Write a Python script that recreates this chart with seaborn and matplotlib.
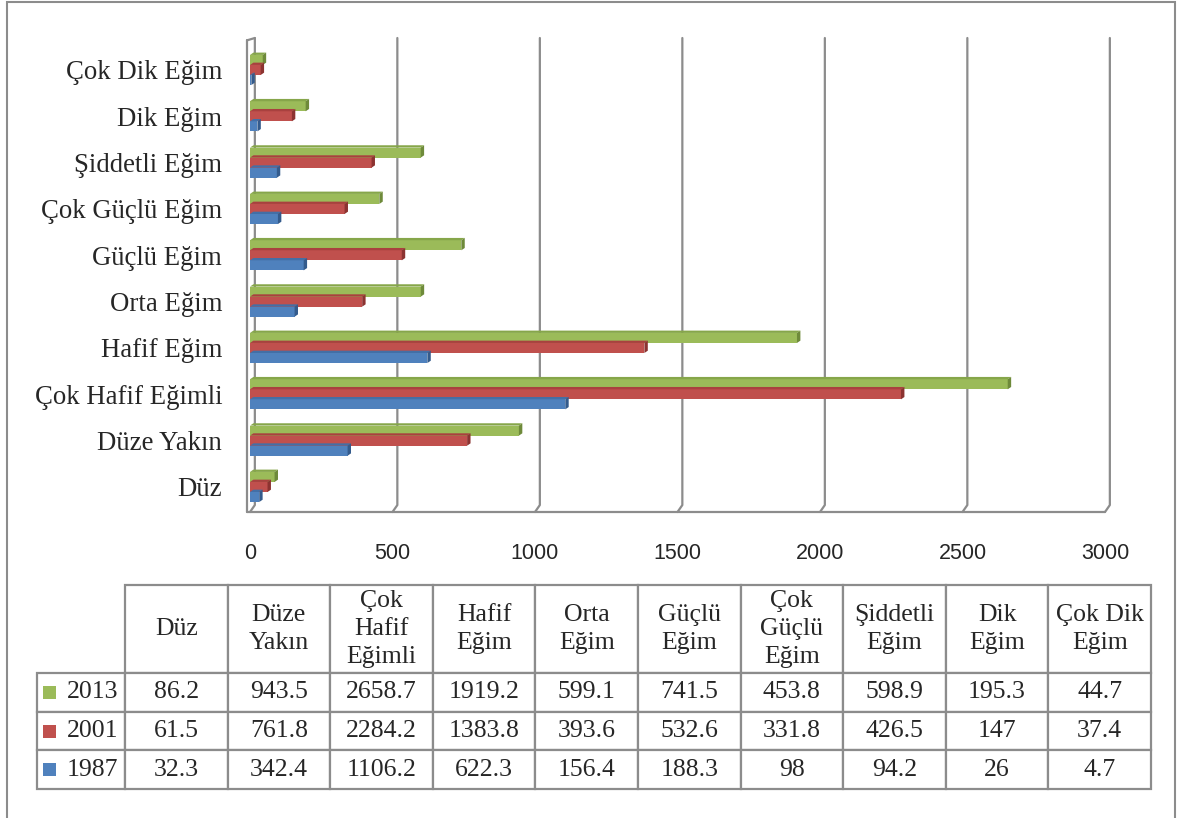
import pandas as pd
import matplotlib.pyplot as plt
import seaborn as sns
from matplotlib.patches import Polygon, Rectangle

categories = ['Düz', 'Düze Yakın', 'Çok Hafif Eğimli', 'Hafif Eğim', 'Orta Eğim',
              'Güçlü Eğim', 'Çok Güçlü Eğim', 'Şiddetli Eğim', 'Dik Eğim', 'Çok Dik Eğim']
header_labels = ['Düz', 'Düze\nYakın', 'Çok\nHafif\nEğimli', 'Hafif\nEğim', 'Orta\nEğim',
                 'Güçlü\nEğim', 'Çok\nGüçlü\nEğim', 'Şiddetli\nEğim', 'Dik\nEğim', 'Çok Dik\nEğim']
years = ['2013', '2001', '1987']
v2013 = [86.2, 943.5, 2658.7, 1919.2, 599.1, 741.5, 453.8, 598.9, 195.3, 44.7]
v2001 = [61.5, 761.8, 2284.2, 1383.8, 393.6, 532.6, 331.8, 426.5, 147, 37.4]
v1987 = [32.3, 342.4, 1106.2, 622.3, 156.4, 188.3, 98, 94.2, 26, 4.7]

colors = {'2013': '#9BBB59', '2001': '#C0504D', '1987': '#4F81BD'}
side_colors = {'#9BBB59': '#6E8A3A', '#C0504D': '#8C3331', '#4F81BD': '#345B8C'}
top_colors = {'#9BBB59': '#86A64A', '#C0504D': '#A9413F', '#4F81BD': '#436FA6'}

rows = []
for year, vals in zip(years, [v2013, v2001, v1987]):
    for c, v in zip(categories, vals):
        rows.append({'Kategori': c, 'Yıl': year, 'Değer': v})
df = pd.DataFrame(rows)

sns.set_style('white')
plt.rcParams['font.family'] = ['Liberation Serif', 'DejaVu Serif']

W, H = 1180, 818
fig = plt.figure(figsize=(W / 100, H / 100), dpi=100)

ax = fig.add_axes([250 / W, 1 - 512 / H, 855 / W, (512 - 38) / H])
sns.barplot(data=df, y='Kategori', x='Değer', hue='Yıl', order=categories[::-1],
            hue_order=years, palette=colors, orient='h', width=0.65, saturation=1,
            legend=False, ax=ax, zorder=3)

top, bottom = -0.69, 9.54
ax.set_xlim(0, 3000)
ax.set_ylim(bottom, top)

# pseudo 3D faces on the bars
dx, dy = 12, -0.05
for p in list(ax.patches):
    x0, y0 = p.get_x(), p.get_y()
    x1, y1 = x0 + p.get_width(), y0 + p.get_height()
    fc = p.get_facecolor()
    hexc = '#%02X%02X%02X' % tuple(int(round(c * 255)) for c in fc[:3])
    p.set_edgecolor('none')
    ax.add_patch(Polygon([(x0, y0), (x0 + dx, y0 + dy), (x1 + dx, y0 + dy), (x1, y0)],
                         closed=True, fc=top_colors.get(hexc, hexc), ec='none', zorder=3))
    ax.add_patch(Polygon([(x1, y0), (x1 + dx, y0 + dy), (x1 + dx, y1 + dy), (x1, y1)],
                         closed=True, fc=side_colors.get(hexc, hexc), ec='none', zorder=3))

# back-wall gridlines and floor
grid_c = '#8C8C8C'
bx = 17
for v in range(0, 3001, 500):
    ax.plot([v + bx, v + bx, v], [top, bottom - 0.15, bottom], color=grid_c, lw=1.6,
            clip_on=False, zorder=1)
ax.plot([-10, -10], [top + 0.05, bottom], color=grid_c, lw=1.6, clip_on=False, zorder=1)
ax.plot([-10, bx], [top + 0.05, top], color=grid_c, lw=1.6, clip_on=False, zorder=1)
ax.plot([-10, 3000], [bottom, bottom], color=grid_c, lw=1.6, clip_on=False, zorder=1)

for s in ax.spines.values():
    s.set_visible(False)
ax.set_xlabel('')
ax.set_ylabel('')
ax.set_xticks(range(0, 3001, 500))
ax.tick_params(axis='both', length=0)
ax.tick_params(axis='x', pad=22)
ax.tick_params(axis='y', pad=20)
for lab in ax.get_xticklabels():
    lab.set_fontfamily(['Liberation Sans', 'DejaVu Sans'])
    lab.set_fontsize(15.5)
for lab in ax.get_yticklabels():
    lab.set_fontsize(19.3)

# data table (first column holds the year keys, header corner hidden)
tx0, tx1, ty0, ty1 = 37, 1151, 585, 789
tax = fig.add_axes([tx0 / W, 1 - ty1 / H, (tx1 - tx0) / W, (ty1 - ty0) / H])
tax.axis('off')
tw, th = tx1 - tx0, ty1 - ty0
lab_w, col_w = 88, 102.6
head_h, row_h = 88, (th - 88) / 3
cell_text = [[y] + [f'{v:g}' for v in vals] for y, vals in zip(years, [v2013, v2001, v1987])]
tbl = tax.table(cellText=cell_text, colLabels=[''] + header_labels, cellLoc='center',
                bbox=[0, 0, 1, 1])
tbl.auto_set_font_size(False)
for (r, c), cell in tbl.get_celld().items():
    cell.set_edgecolor('#8C8C8C')
    cell.set_linewidth(1.6)
    cell.set_height((head_h if r == 0 else row_h) / th)
    cell.set_width((lab_w if c == 0 else col_w) / tw)
    txt = cell.get_text()
    txt.set_fontsize(18.5)
    txt.set_fontfamily(['Liberation Serif', 'DejaVu Serif'])
    txt.set_linespacing(1.36)
    if c == 0:
        cell.PAD = 0.08
        txt.set_horizontalalignment('right')
        cell._loc = 'right'
tbl[0, 0].set_visible(False)

# legend keys in the year cells
for i, year in enumerate(years):
    yc = 1 - (head_h + row_h * (i + 0.5)) / th
    sq = 13
    tax.add_patch(Rectangle((6 / tw, yc - (sq / 2) / th), sq / tw, sq / th,
                            transform=tax.transAxes, fc=colors[year], ec='none', zorder=5))

# outer frame
fig.patches.append(Rectangle((7 / W, -0.01), (1175 - 7) / W, 1.01 - 2 / H,
                             transform=fig.transFigure, fill=False, ec='#8C8C8C', lw=1.5))

fig.savefig('out.png', dpi=100)
